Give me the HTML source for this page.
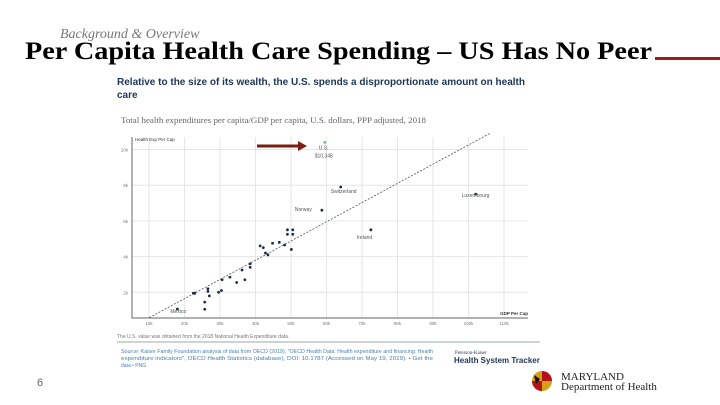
<!DOCTYPE html>
<html><head><meta charset="utf-8"><style>
html,body{margin:0;padding:0;background:#fff;}
svg{display:block;font-family:"Liberation Sans",sans-serif;}
</style></head><body>
<svg width="720" height="405" viewBox="0 0 720 405">
<text x="60" y="38" font-family="Liberation Serif,serif" font-style="italic" font-size="14" fill="#777">Background &amp; Overview</text>
<text x="25" y="59" font-family="Liberation Serif,serif" font-weight="bold" font-size="25" fill="#000" textLength="627" lengthAdjust="spacingAndGlyphs">Per Capita Health Care Spending – US Has No Peer</text>
<rect x="655" y="57" width="65" height="3" fill="#9b1c1f"/>
<text x="117" y="85" font-size="10" font-weight="bold" fill="#1d3557" textLength="408" lengthAdjust="spacingAndGlyphs">Relative to the size of its wealth, the U.S. spends a disproportionate amount on health</text>
<text x="117" y="98" font-size="10" font-weight="bold" fill="#1d3557">care</text>
<text x="121" y="123" font-family="Liberation Serif,serif" font-size="8" fill="#666" textLength="305" lengthAdjust="spacingAndGlyphs">Total health expenditures per capita/GDP per capita, U.S. dollars, PPP adjusted, 2018</text>
<g id="chart"></g>
<text x="117" y="338" font-size="5" fill="#777">The U.S. value was obtained from the 2018 National Health Expenditure data.</text>
<line x1="117" y1="342" x2="540" y2="342" stroke="#9aa" stroke-width="1"/>
<text x="121" y="353" font-size="5" fill="#4a7fb5" textLength="312" lengthAdjust="spacingAndGlyphs">Source: Kaiser Family Foundation analysis of data from OECD (2019), "OECD Health Data: Health expenditure and financing: Health</text>
<text x="121" y="360" font-size="5" fill="#4a7fb5" textLength="312" lengthAdjust="spacingAndGlyphs">expenditure indicators", OECD Health Statistics (database), DOI: 10.1787 (Accessed on May 19, 2019). • Get the</text>
<text x="121" y="367" font-size="5" fill="#4a7fb5">data • PNG</text>
<text x="455" y="354" font-family="Liberation Serif,serif" font-size="5" fill="#1d3557">Peterson-Kaiser</text>
<text x="454" y="363" font-size="8" font-weight="bold" fill="#1d3557">Health System Tracker</text>
<g>
<circle cx="542" cy="381" r="10" fill="#d4a017"/>
<path d="M542 371 A10 10 0 0 1 552 381 L542 381 Z" fill="#b5121b"/>
<path d="M532 381 A10 10 0 0 0 542 391 L542 381 Z" fill="#b5121b"/>
<path d="M534 375 L540 379 L536 384 Z" fill="#111"/>
<text x="561" y="380" font-family="Liberation Serif,serif" font-size="11" fill="#222">MARYLAND</text>
<text x="561" y="390" font-family="Liberation Serif,serif" font-size="11" fill="#222">Department of Health</text>
</g>
<text x="37" y="386" font-size="11" fill="#666">6</text>
</svg>
<script>
const xTicks=[10,20,30,40,50,60,70,80,90,100,110];
const yTicks=[2,4,6,8,10];
const gdp=[59.5,64,58.7,102,72.5,18,49,50.5,49,50.5,41.3,42.2,44.8,46.7,48.2,50.1,42.8,43.5,38.5,38.5,36.2,32.8,37,34.7,30.6,30.4,29.6,26.6,26.6,27,25.7,25.7,22.9,22.5];
const health=[10.4,7.9,6.6,7.5,5.5,1.06,5.5,5.5,5.25,5.25,4.6,4.5,4.75,4.8,4.65,4.4,4.2,4.1,3.6,3.4,3.25,2.85,2.7,2.55,2.7,2.1,2.0,2.2,2.05,1.8,1.45,1.05,1.95,1.95];
const labels=["U.S.","Switzerland","Norway","Luxembourg","Ireland","Mexico"];
const trendX=[10.1,106];
const trendY=[0.58,10.9];
const NS="http://www.w3.org/2000/svg";
const g=document.getElementById('chart');
const xs=v=>149+(v-10)*3.55;
const ys=v=>292.3-(v-2)*17.85;
function mk(t,a,p){const e=document.createElementNS(NS,t);for(const k in a)e.setAttribute(k,a[k]);(p||g).appendChild(e);return e;}
yTicks.forEach(v=>{
 const l=mk('line',{x1:132,x2:528,y1:ys(v),y2:ys(v),stroke:'#e6e6e6','stroke-width':1});
 
 
 const t=mk('text',{x:128,y:ys(v)+2,'font-size':4.5,fill:'#777','text-anchor':'end'});
 t.textContent=v+'k';
 
 
});
xTicks.forEach(v=>{
 const l=mk('line',{x1:xs(v),x2:xs(v),y1:137,y2:318,stroke:'#e6e6e6','stroke-width':1});
 
 
 const t=mk('text',{x:xs(v),y:325,'font-size':4.5,fill:'#777','text-anchor':'middle'});
 t.textContent=v+'k';
 
 
});
const ax=mk('path',{d:'M132 137 L132 318 L528 318',fill:'none',stroke:'#666','stroke-width':1});


const yt=mk('text',{x:135,y:141,'font-size':4.5,fill:'#333'});yt.textContent='Health Exp Per Cap';


const xt=mk('text',{x:528,y:315,'font-size':4.5,fill:'#333','font-weight':'bold','text-anchor':'end'});xt.textContent='GDP Per Cap';


const tl=mk('line',{x1:xs(trendX[0]),y1:ys(trendY[0]),x2:xs(trendX[1]),y2:ys(trendY[1]),stroke:'#555','stroke-width':0.8,'stroke-dasharray':'2,1.5'});


gdp.forEach((v,i)=>{
 const c=mk('circle',{cx:xs(v),cy:ys(health[i]),r:1.4,fill:i==0?'#6bbf8a':'#1d2d44'});
 
 
});
const off=[[-6,7],[-10,6],[-27,1],[-14,3],[-14,9],[-7,4]];
labels.forEach((s,i)=>{
 const t=mk('text',{x:xs(gdp[i])+off[i][0],y:ys(health[i])+off[i][1],'font-size':5,fill:'#555'});
 t.textContent=s;
 
 
});
const us=mk('text',{x:xs(gdp[0])-10,y:ys(health[0])+15,'font-size':5,fill:'#555'});us.textContent='$10,348';


const ar=mk('path',{d:'M257 144.5 L298 144.5 L298 141 L307 146 L298 151 L298 147.5 L257 147.5 Z',fill:'#7a1e12'});


</script>
</body></html>
